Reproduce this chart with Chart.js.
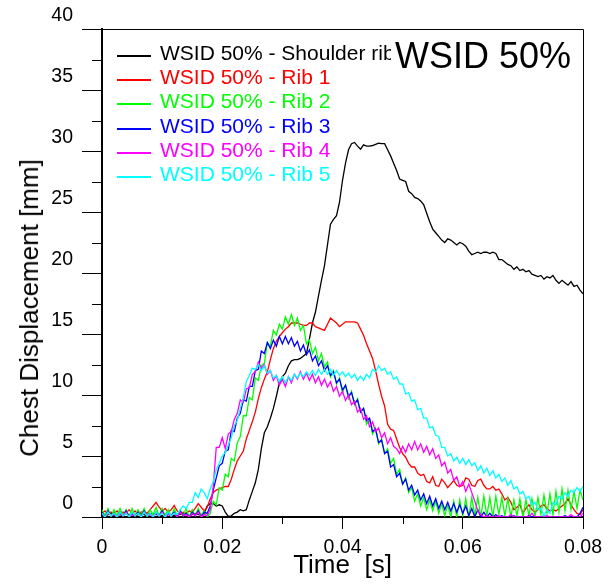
<!DOCTYPE html>
<html>
<head>
<meta charset="utf-8">
<script src="https://cdn.jsdelivr.net/npm/chart.js@4.4.0/dist/chart.umd.min.js"></script>
<style>
  body { margin: 0; background: #fff; }
  #wrap { position: relative; width: 609px; height: 585px; font-family: 'Liberation Sans', Arial, sans-serif; }
  .row { position: absolute; left: 117px; height: 24px; white-space: nowrap; }
  .row .swatch { position: absolute; left: 0; top: 12px; width: 34px; height: 1.5px; }
  .row .label { position: absolute; left: 43px; top: -2px; font-size: 21px; line-height: 24px; }
  #title { position: absolute; left: 391px; top: 36px; height: 40px; padding: 0 4px; background: #fff;
           font-size: 36px; line-height: 40px; color: #000; z-index: 2; }
  #ytitle { position: absolute; left: 28.5px; top: 308px; transform: translate(-50%, -50%) rotate(-90deg);
            font-size: 26px; line-height: 30px; white-space: nowrap; color: #000; }
</style>
</head>
<body>
<div id="wrap">
  <canvas id="chart" width="609" height="585"></canvas>
  <div id="legend"></div>
  <div id="ytitle">Chest Displacement [mm]</div>
  <div id="title">WSID 50%</div>
</div>
<script>
// sample clock: one reading every 0.5 ms, 0 .. 0.08 s
const times = [];
for (let i = 0; i <= 160; i++) times.push(+(i * 0.0005).toFixed(4));

// chest displacement [mm], 10 samples (5 ms) per line
const shoulderRib = [
  0.2,0.1,0.2,0.3,0.1,0.2,0.2,0.1,0.3,0.2,
  0.2,0.1,0.2,0.3,0.2,0.1,0.2,0.3,0.2,0.2,
  0.1,0.2,0.3,0.2,0.1,0.2,0.2,0.3,0.2,0.1,
  0.2,0.3,0.2,0.2,0.3,0.9,1.1,1.1,0.9,1.0,
  0.9,0.4,0.05,0.1,0.3,0.4,0.6,0.5,0.6,1.4,
  2.1,2.8,3.9,5.6,6.9,7.4,8.1,8.9,9.9,11.0,
  11.5,11.8,12.4,12.8,12.9,12.9,13.0,13.2,13.4,14.6,
  15.9,16.8,18.1,19.4,20.6,22.3,24.0,24.4,24.7,25.8,
  27.6,29.0,30.1,30.6,30.7,30.4,30.15,30.5,30.4,30.4,
  30.45,30.55,30.65,30.6,30.6,30.1,29.6,29.0,28.4,27.7,
  27.6,27.5,26.7,26.5,26.2,26.1,25.9,25.6,24.9,24.2,
  23.6,23.3,23.0,22.7,22.5,22.8,22.7,22.5,22.3,22.5,
  22.4,22.2,21.8,21.5,21.6,21.7,21.6,21.7,21.7,21.6,
  21.7,21.6,21.1,21.1,20.9,20.7,20.6,20.3,20.5,20.2,
  20.3,20.1,20.2,19.9,19.8,19.7,19.8,19.5,19.7,19.6,
  19.8,19.4,19.15,19.4,19.2,19.0,19.3,18.9,19.0,18.6,
  18.3
];
const rib1 = [
  0.3,0.5,0.2,0.4,0.3,0.5,0.2,0.4,0.3,0.6,
  0.3,0.5,0.2,0.4,0.5,0.3,0.6,0.9,1.2,0.8,
  0.5,0.7,0.4,0.6,0.95,0.5,0.3,0.4,0.3,0.5,
  0.4,0.7,1.1,0.8,0.5,0.8,1.5,2.0,2.2,2.3,
  2.4,2.5,2.5,3.1,3.9,4.6,5.0,5.4,6.4,7.1,
  7.8,8.6,9.7,10.6,11.3,11.9,12.9,13.8,14.4,14.8,
  15.1,15.4,15.6,15.9,15.9,15.9,15.8,15.7,15.7,15.9,
  15.9,15.6,15.5,15.4,15.3,15.8,16.3,16.1,15.9,15.6,
  15.8,16.0,16.0,16.0,16.0,15.9,15.4,14.9,14.2,13.6,
  13.0,12.0,10.9,9.9,9.1,7.6,7.2,7.1,6.4,5.7,
  5.2,4.9,4.4,4.1,4.1,3.6,3.4,3.5,2.9,2.8,
  3.3,2.6,2.5,3.1,2.8,2.4,2.7,3.0,2.6,2.5,
  2.6,3.2,3.1,2.6,2.5,3.0,3.1,2.6,2.3,2.3,
  2.5,2.2,2.3,1.9,1.4,1.6,1.2,0.6,0.8,1.0,
  0.3,0.7,1.0,0.6,0.4,0.6,0.9,1.0,0.7,0.5,
  0.6,0.5,0.7,0.9,1.1,1.5,1.0,0.6,0.3,0.2,
  0.6
];
const rib2 = [
  0.6,0.1,0.7,0.0,0.6,0.1,0.7,0.1,0.6,0.0,
  0.7,0.1,0.6,0.1,0.7,0.0,0.6,0.2,0.8,0.1,
  0.7,0.1,0.6,0.0,0.7,0.1,0.6,0.1,0.7,0.0,
  0.6,0.1,0.7,0.1,0.5,0.0,0.3,1.3,1.0,2.4,
  2.2,3.5,3.3,4.8,4.6,6.1,6.6,8.3,8.3,9.8,
  9.6,11.4,11.2,12.4,12.6,14.3,14.0,15.3,14.9,15.8,
  15.4,16.4,15.8,16.6,15.7,16.3,15.3,15.7,14.2,14.5,
  13.4,13.9,12.8,13.4,12.3,12.7,11.5,12.0,10.9,11.4,
  10.2,10.8,9.7,10.3,9.2,9.7,8.6,8.9,7.6,8.0,
  6.8,7.3,6.0,6.4,5.2,5.6,4.4,4.8,3.5,3.9,
  2.7,3.2,2.0,2.4,1.3,1.9,0.9,1.6,0.6,1.4,
  0.5,1.3,0.3,1.1,0.1,1.0,0.0,1.3,0.0,1.4,
  0.1,1.5,0.0,1.6,0.1,1.6,0.0,1.7,0.1,1.6,
  0.0,1.7,0.2,1.6,0.1,1.5,0.0,1.4,0.1,1.5,
  0.0,1.4,0.1,1.5,0.0,1.6,0.2,1.8,0.3,1.9,
  0.2,2.1,0.4,2.3,0.5,2.2,0.6,2.1,0.7,2.2,
  1.4
];
const rib3 = [
  0.4,0.0,0.5,0.1,0.3,0.0,0.4,0.1,0.5,0.0,
  0.3,0.1,0.4,0.0,0.5,0.1,0.3,0.0,0.4,0.1,
  0.5,0.0,0.3,0.1,0.4,0.0,0.5,0.1,0.3,0.0,
  0.4,0.1,0.5,0.0,0.4,0.3,0.9,2.2,3.2,4.2,
  4.4,5.4,5.5,7.1,7.0,8.1,8.5,9.6,9.5,10.7,
  10.7,12.0,12.1,13.6,13.4,14.3,13.8,14.5,14.0,14.8,
  14.2,14.8,14.2,14.7,14.0,14.4,13.6,14.1,13.3,13.7,
  12.8,13.2,12.4,12.8,12.0,12.4,11.6,11.9,11.0,11.3,
  10.4,10.8,9.9,10.2,9.3,9.6,8.6,8.9,7.9,8.1,
  7.0,7.2,6.1,6.3,5.2,5.4,4.1,4.3,3.3,3.6,
  2.7,3.1,2.2,2.6,1.8,2.2,1.4,1.9,1.1,1.7,
  0.9,1.5,0.7,1.3,0.6,1.2,0.5,1.1,0.4,1.0,
  0.3,0.9,0.1,0.7,0.0,0.6,0.0,0.4,0.0,0.3,
  0.0,0.2,0.0,0.1,0.0,0.0,0.0,0.1,0.0,0.0,
  0.0,0.0,0.1,0.0,0.0,0.0,0.0,0.1,0.0,0.0,
  0.0,0.0,0.0,0.0,0.1,0.0,0.0,0.0,0.0,0.3,
  0.8
];
const rib4 = [
  0.3,0.0,0.4,0.1,0.2,0.0,0.3,0.1,0.4,0.0,
  0.2,0.1,0.3,0.0,0.4,0.1,0.2,0.0,0.3,0.1,
  0.4,0.0,0.2,0.1,0.3,0.0,0.4,0.1,0.2,0.0,
  0.3,0.1,0.4,0.0,0.2,0.1,0.6,2.5,5.7,5.7,
  6.5,5.6,6.8,7.0,8.0,8.5,9.6,9.4,10.5,10.6,
  11.7,11.9,12.7,12.2,12.5,11.7,12.0,11.2,11.6,10.8,
  11.3,10.7,11.5,11.0,11.7,11.3,11.9,11.3,11.8,11.2,
  11.7,11.0,11.5,10.8,11.3,10.65,11.1,10.3,10.7,9.9,
  10.3,9.55,10.0,9.2,9.5,8.6,8.9,8.0,8.3,7.4,
  7.8,7.0,7.3,6.5,6.9,6.0,6.5,5.8,5.6,5.2,
  5.8,5.3,6.0,5.5,6.2,5.5,6.0,5.3,5.8,5.1,
  5.6,4.8,5.1,4.2,4.5,3.6,3.9,3.0,3.3,2.5,
  2.9,2.1,2.7,2.0,1.3,0.5,0.2,0.0,0.1,0.0,
  0.0,0.0,0.1,0.0,0.0,0.0,0.2,0.0,0.0,0.0,
  0.0,0.0,0.0,0.3,0.0,0.0,0.0,0.0,0.1,0.0,
  0.0,0.0,0.0,0.0,0.0,0.0,0.2,0.0,0.0,0.0,
  0.3
];
const rib5 = [
  0.3,0.0,0.4,0.1,0.3,0.0,0.4,0.1,0.3,0.0,
  0.4,0.1,0.3,0.0,0.4,0.1,0.3,0.0,0.4,0.1,
  0.3,0.0,0.4,0.1,0.3,0.2,0.6,0.9,0.7,1.2,
  1.2,2.0,1.6,2.3,2.0,1.5,2.3,2.9,3.9,4.4,
  5.0,5.3,5.9,6.5,7.5,7.9,8.9,9.8,11.1,11.6,
  12.2,12.1,12.5,12.0,12.4,11.8,12.0,11.4,11.6,11.1,
  11.5,11.0,11.5,11.2,11.7,11.4,11.8,11.5,11.9,11.6,
  12.0,11.6,12.1,11.7,12.1,11.7,12.1,11.6,12.0,11.6,
  11.9,11.5,11.8,11.4,11.7,11.2,11.55,11.2,11.7,11.4,
  12.1,11.9,12.4,12.0,12.2,11.7,11.9,11.3,11.5,10.9,
  10.9,10.1,10.2,9.5,9.6,8.8,8.9,8.1,8.1,7.3,
  7.4,6.7,6.6,5.7,5.7,5.0,5.2,4.6,4.9,4.4,
  4.8,4.3,4.7,4.2,4.45,3.8,4.2,3.6,4.0,3.4,
  3.8,3.2,3.5,2.9,3.2,2.6,3.0,2.3,2.5,1.9,
  2.1,1.5,1.7,1.0,1.2,0.6,0.7,0.1,0.6,0.3,
  1.2,1.0,1.7,1.5,2.0,1.7,2.2,2.0,2.4,2.1,
  2.5
];

const seriesNames = ['WSID 50% - Shoulder rib', 'WSID 50% - Rib 1', 'WSID 50% - Rib 2',
                     'WSID 50% - Rib 3', 'WSID 50% - Rib 4', 'WSID 50% - Rib 5'];
const seriesValues = [shoulderRib, rib1, rib2, rib3, rib4, rib5];
const seriesColors = ['#000000', '#ff0000', '#00ff00', '#0000ff', '#ff00ff', '#00ffff'];

const xTickStep = 0.01;   // labels on every second tick
const yTickStep = 2.5;    // labels on every second tick

const isMajorX = v => Math.round(v / xTickStep) % 2 === 0;
const isMajorY = v => Math.round(v / yTickStep) % 2 === 0;

const FONT = "'Liberation Sans', Arial, sans-serif";

// top/right frame lines and the short minor ticks
const framePlugin = {
  id: 'frame',
  afterDraw(chart) {
    const { ctx, chartArea: { left, right, top, bottom } } = chart;
    ctx.save();
    ctx.strokeStyle = '#000';
    ctx.lineWidth = 1;
    ctx.beginPath();
    ctx.moveTo(left, Math.round(top) + 0.5);
    ctx.lineTo(Math.round(right) + 0.5, Math.round(top) + 0.5);
    ctx.lineTo(Math.round(right) + 0.5, bottom);
    const ys = chart.scales.y;
    ys.ticks.forEach(t => {
      if (isMajorY(t.value)) return;
      const p = Math.round(ys.getPixelForValue(t.value)) + 0.5;
      ctx.moveTo(left - 10, p);
      ctx.lineTo(left, p);
    });
    const xs = chart.scales.x;
    xs.ticks.forEach(t => {
      if (isMajorX(t.value)) return;
      const p = Math.round(xs.getPixelForValue(t.value)) + 0.5;
      ctx.moveTo(p, bottom);
      ctx.lineTo(p, bottom + 7);
    });
    ctx.stroke();
    ctx.restore();
  }
};

const datasets = seriesNames.map((name, k) => ({
  label: name,
  data: times.map((t, i) => ({ x: t, y: seriesValues[k][i] })),
  borderColor: seriesColors[k],
  backgroundColor: seriesColors[k],
  borderWidth: 1.3,
  pointRadius: 0,
  tension: 0,
  fill: false,
  order: seriesNames.length - k   // last series painted on top
}));

const chart = new Chart(document.getElementById('chart'), {
  type: 'line',
  data: { datasets },
  options: {
    responsive: false,
    animation: false,
    layout: { padding: { top: 29, right: 24, left: 0, bottom: 0 } },
    plugins: { legend: { display: false }, tooltip: { enabled: false } },
    scales: {
      x: {
        type: 'linear',
        min: 0,
        max: 0.08,
        afterFit: s => { s.height = 68; },
        border: { display: true, color: '#000', width: 2 },
        grid: {
          drawOnChartArea: false,
          drawTicks: true,
          tickLength: 12,
          tickWidth: 1,
          tickColor: c => isMajorX(c.tick.value) ? '#000' : 'rgba(0,0,0,0)'
        },
        ticks: {
          stepSize: xTickStep,
          autoSkip: false,
          maxRotation: 0,
          padding: 7,
          color: '#000',
          font: { family: FONT, size: 19.5 },
          callback: v => {
            if (!isMajorX(v)) return '';
            const k = Math.round(v / xTickStep);
            return k === 0 ? '0' : (k * xTickStep).toFixed(2);
          }
        },
        title: {
          display: true,
          text: 'Time  [s]',
          color: '#000',
          font: { family: FONT, size: 26 },
          padding: { top: 0, bottom: 4 }
        }
      },
      y: {
        min: 0,
        max: 40,
        afterFit: s => { s.width = 102; },
        border: { display: true, color: '#000', width: 2 },
        grid: {
          drawOnChartArea: false,
          drawTicks: true,
          tickLength: 20,
          tickWidth: 1,
          tickColor: c => isMajorY(c.tick.value) ? '#000' : 'rgba(0,0,0,0)'
        },
        ticks: {
          stepSize: yTickStep,
          autoSkip: false,
          padding: 9,
          labelOffset: -13,
          color: '#000',
          font: { family: FONT, size: 19.5 },
          callback: v => isMajorY(v) ? String(Math.round(v)) : ''
        }
      }
    }
  },
  plugins: [framePlugin]
});

// legend inside the plot, top left
const legend = document.getElementById('legend');
chart.data.datasets.forEach((ds, k) => {
  const row = document.createElement('div');
  row.className = 'row';
  row.style.top = Math.round(43 + k * 24.2) + 'px';
  const sw = document.createElement('span');
  sw.className = 'swatch';
  sw.style.background = ds.borderColor;
  const lb = document.createElement('span');
  lb.className = 'label';
  lb.style.color = ds.borderColor;
  lb.textContent = ds.label;
  row.appendChild(sw);
  row.appendChild(lb);
  legend.appendChild(row);
});
</script>
</body>
</html>
